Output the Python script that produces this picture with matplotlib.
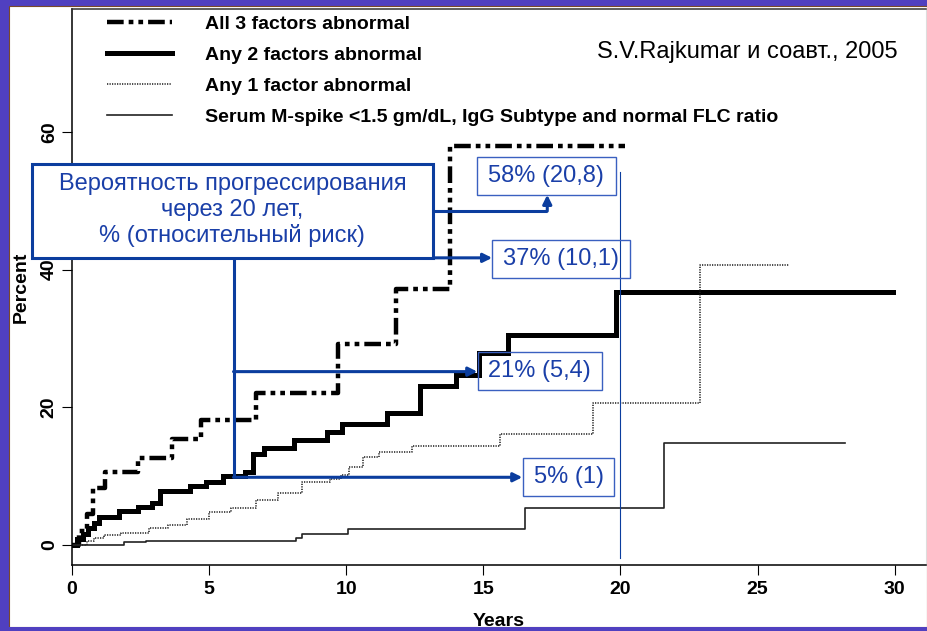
import matplotlib
matplotlib.use("Agg")
import matplotlib.pyplot as plt
from matplotlib.patches import Rectangle

plt.rcParams['font.family'] = ['Liberation Sans', 'DejaVu Sans']
plt.rcParams['lines.scale_dashes'] = False

# Kaplan-Meier style step curves: time (years) where each level starts, level (%)
# last point repeats the level at the end of follow-up
t_all3 = [0, 0.25, 0.55, 0.78, 1.2, 2.4, 3.65, 4.7, 6.7, 9.7, 11.8, 13.8, 20.15]
p_all3 = [0, 2.0, 4.5, 8.2, 10.6, 12.6, 15.4, 18.1, 22.1, 29.1, 37.1, 58.0, 58.0]

t_any2 = [0, 0.2, 0.4, 0.6, 0.8, 1.0, 1.7, 2.4, 2.9, 3.2, 4.3, 4.9, 5.5, 6.3, 6.6,
          7.0, 8.1, 9.3, 9.85, 11.5, 12.7, 14.0, 14.85, 15.9, 19.85, 29.95]
p_any2 = [0, 0.8, 1.6, 2.4, 3.2, 4.0, 4.9, 5.5, 6.1, 7.8, 8.5, 9.1, 9.9, 10.5, 13.2,
          14.1, 15.2, 16.3, 17.5, 19.2, 23.0, 24.7, 27.9, 30.5, 36.8, 36.8]

t_any1 = [0, 0.55, 0.8, 1.15, 1.8, 2.8, 3.5, 4.2, 5.0, 5.8, 6.7, 7.5, 8.4, 9.4, 9.8,
          10.1, 10.6, 11.2, 12.4, 15.6, 19.0, 22.9, 26.15]
p_any1 = [0, 0.5, 1.0, 1.4, 1.7, 2.4, 2.8, 3.7, 4.7, 5.3, 6.5, 7.5, 9.1, 9.6, 10.1,
          11.3, 12.8, 13.5, 14.4, 16.1, 20.6, 40.6, 40.6]

t_low = [0, 1.9, 2.7, 8.15, 8.4, 10.05, 16.5, 21.6, 28.2]
p_low = [0, 0.3, 0.55, 1.0, 1.6, 2.3, 5.3, 14.7, 14.7]

labels = ["All 3 factors abnormal", "Any 2 factors abnormal", "Any 1 factor abnormal",
          "Serum M-spike <1.5 gm/dL, IgG Subtype and normal FLC ratio"]

risk_text = ["58% (20,8)", "37% (10,1)", "21% (5,4)", "5% (1)"]
box_title = "Вероятность прогрессирования\nчерез 20 лет,\n% (относительный риск)"
citation = "S.V.Rajkumar и соавт., 2005"

purple = '#5040C0'
blue = '#0B3D9E'
txt_blue = '#1A3FA8'
box_edge = '#3A60C0'

fig = plt.figure(figsize=(9.27, 6.31), dpi=100, facecolor=purple)
fig.add_artist(Rectangle((9/927, 4/631), 1 - 9/927, 1 - 10/631, transform=fig.transFigure,
                         facecolor='white', edgecolor='#7A4A2A', lw=0.8, zorder=-5))
fig.add_artist(Rectangle((0, 0), 1, 4/631, transform=fig.transFigure,
                         facecolor=purple, edgecolor='none', zorder=10))

ax = fig.add_axes([72/927, 66/631, 854/927, 556/631])
ax.set_facecolor('white')

ax.step(t_all3, p_all3, where='post', color='black', lw=3.2,
        dashes=[12, 3.6, 3.4, 3.6, 3.4, 3.6], dash_capstyle='butt', label=labels[0])
ax.step(t_any2, p_any2, where='post', color='black', lw=3.6,
        solid_joinstyle='miter', label=labels[1])
ax.step(t_any1, p_any1, where='post', color='#1a1a1a', lw=1.1,
        dashes=[0.9, 0.9], label=labels[2])
ax.step(t_low, p_low, where='post', color='#222222', lw=1.2, label=labels[3])

ax.set_xlim(0, 31.14)
ax.set_ylim(-2.98, 77.9)
ax.set_xticks([0, 5, 10, 15, 20, 25, 30])
ax.set_yticks([0, 20, 40, 60])
ax.tick_params(length=7.2, width=0.8, labelsize=14, pad=4)
ax.tick_params(axis='y', labelrotation=90, pad=3)
for lab in ax.get_xticklabels() + ax.get_yticklabels():
    lab.set_fontweight('bold')
for lab in ax.get_yticklabels():
    lab.set_va('center')
ax.set_xlabel("Years", fontsize=14, fontweight='bold', labelpad=11)
ax.set_ylabel("Percent", fontsize=14, fontweight='bold', labelpad=8)

for side in ['left', 'bottom']:
    ax.spines[side].set_linewidth(1.1)
ax.spines['top'].set_color('#333333')
ax.spines['top'].set_linewidth(1.1)
ax.spines['right'].set_color('#DDDDDD')
ax.spines['right'].set_linewidth(0.8)

ax.legend(loc='upper left', bbox_to_anchor=(107/927, 1 - 15/631), bbox_transform=fig.transFigure,
          frameon=False, prop=dict(weight='bold', size=14), handlelength=3.35,
          handletextpad=1.7, labelspacing=0.7, borderpad=0, borderaxespad=0)

ax.text(30.09, 71.7, citation, ha='right', va='center', fontsize=17)

# 20-year marker
ax.plot([20, 20], [-2.0, 54.2], color=blue, lw=0.8, zorder=4)

# big caption box
ax.add_patch(Rectangle((-1.46, 41.7), 14.63, 13.7, facecolor='white', edgecolor=blue,
                       lw=2.2, clip_on=False, zorder=6))
ax.text(5.85, 48.6, box_title, ha='center', va='center', fontsize=17, color=txt_blue,
        linespacing=1.2, zorder=7)

# connectors
arrow = dict(arrowstyle='-|>', color=blue, lw=2.2, mutation_scale=13, shrinkA=0, shrinkB=0)
ax.plot([5.89, 5.89], [41.7, 9.78], color=blue, lw=2.2, zorder=5, solid_capstyle='butt')
ax.plot([13.17, 17.33], [48.5, 48.5], color=blue, lw=2.2, zorder=5, solid_capstyle='butt')
ax.annotate('', xy=(17.33, 50.87), xytext=(17.33, 48.5), arrowprops=arrow, zorder=5)
ax.annotate('', xy=(15.32, 41.7), xytext=(13.17, 41.7), arrowprops=arrow, zorder=5)
ax.annotate('', xy=(14.78, 25.15), xytext=(5.89, 25.15), arrowprops=arrow, zorder=5)
ax.annotate('', xy=(16.42, 9.78), xytext=(5.89, 9.78), arrowprops=arrow, zorder=5)

# risk boxes (x0, x1, y0, y1 in data units)
boxes = [(14.76, 19.82, 50.87, 56.36),
         (15.33, 20.36, 38.75, 44.32),
         (14.79, 19.32, 22.45, 27.98),
         (16.43, 19.78, 7.02, 12.55)]
for (x0, x1, y0, y1), s in zip(boxes, risk_text):
    ax.add_patch(Rectangle((x0, y0), x1 - x0, y1 - y0, facecolor='none', edgecolor=box_edge,
                           lw=1.0, zorder=6))
    ax.text((x0 + x1) / 2, (y0 + y1) / 2, s, ha='center', va='center', fontsize=17,
            color=txt_blue, zorder=7)

fig.savefig('out.png', dpi=100, facecolor=fig.get_facecolor())
